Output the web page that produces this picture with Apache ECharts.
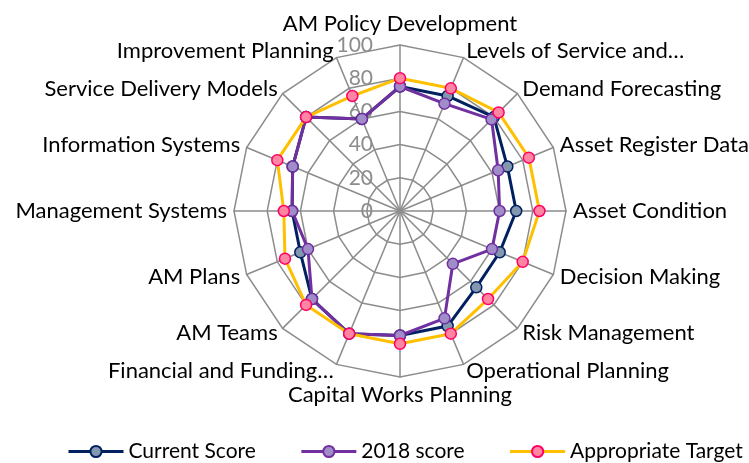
<!DOCTYPE html>
<html>
<head>
<meta charset="utf-8">
<script src="https://cdn.jsdelivr.net/npm/echarts@6/dist/echarts.min.js"></script>
<style>html,body{margin:0;padding:0;background:#fff}#c{width:749px;height:463px}</style>
</head>
<body>
<div id="c"></div>
<script>
// Indicators in clockwise order starting at the top (as in the reference)
var categories = [
  'AM Policy Development', 'Levels of Service and\u2026', 'Demand Forecasting', 'Asset Register Data',
  'Asset Condition', 'Decision Making', 'Risk Management', 'Operational Planning',
  'Capital Works Planning', 'Financial and Funding\u2026', 'AM Teams', 'AM Plans',
  'Management Systems', 'Information Systems', 'Service Delivery Models', 'Improvement Planning'
];
var currentScore      = [75, 75, 80, 70, 70, 65, 65, 75, 75, 80, 75, 65, 65, 70, 80, 60];
var score2018         = [75, 70, 78, 64, 60, 60, 45, 70, 75, 80, 75, 60, 65, 70, 80, 60];
var appropriateTarget = [80, 80, 84, 84, 84, 80, 75, 80, 80, 80, 80, 75, 70, 80, 80, 75];
var tickLabels = ['0', '20', '40', '60', '80', '100'];
var maxValue = 100;

// ECharts radar runs counter-clockwise; reorder so the picture runs clockwise.
function reorder(arr) {
  var out = [arr[0]];
  for (var i = arr.length - 1; i >= 1; i--) out.push(arr[i]);
  return out;
}

var FONT = 'Lato';
var indicators = reorder(categories).map(function (name, i) {
  var ind = { name: name, max: maxValue, min: 0 };
  if (i === 0) {
    ind.axisLabel = {
      show: true, color: '#8c8c8c', fontSize: 21, fontFamily: FONT, margin: 27,
      formatter: function (v) { var k = Math.round(v / 20); return tickLabels[k] != null ? tickLabels[k] : ''; }
    };
  }
  return ind;
});

var seriesDefs = [
  { name: 'Current Score', values: currentScore, line: '#002060', fill: '#8497b0', border: '#002060' },
  { name: '2018 score', values: score2018, line: '#7030a0', fill: '#a08cc8', border: '#7030a0' },
  { name: 'Appropriate Target', values: appropriateTarget, line: '#ffc000', fill: '#ff85a2', border: '#ff0066' }
];

var series = [];
// Legend-only line series (empty) to get line+marker legend icons
seriesDefs.forEach(function (d) {
  series.push({
    type: 'line', name: d.name, data: [], symbol: 'circle', symbolSize: 11,
    lineStyle: { color: d.line, width: 3 },
    itemStyle: { color: d.fill, borderColor: d.border, borderWidth: 1.5 }
  });
});
seriesDefs.forEach(function (d) {
  series.push({
    type: 'radar', name: d.name, symbol: 'circle', symbolSize: 11,
    lineStyle: { color: d.line, width: 3 },
    itemStyle: { color: d.fill, borderColor: d.border, borderWidth: 1.5 },
    data: [{ name: d.name, value: reorder(d.values) }],
    z: 2
  });
});

var chart = echarts.init(document.getElementById('c'), null, { renderer: 'canvas' });
chart.setOption({
  animation: false,
  backgroundColor: '#ffffff',
  textStyle: { fontFamily: FONT },
  grid: { show: false, left: -100, top: -100, width: 10, height: 10 },
  xAxis: { show: false, type: 'category', data: [] },
  yAxis: { show: false, type: 'value' },
  legend: {
    top: 436, left: 62, width: 687, itemWidth: 55, itemHeight: 14, itemGap: 44,
    lineStyle: { width: 3 },
    textStyle: { fontSize: 21, color: '#000', fontFamily: FONT },
    data: seriesDefs.map(function (d) { return d.name; })
  },
  radar: {
    center: [400, 211],
    radius: 166,
    startAngle: 90,
    shape: 'polygon',
    splitNumber: 5,
    indicator: indicators,
    axisName: { color: '#000', fontSize: 22, fontFamily: FONT },
    nameGap: 7,
    axisLabel: { show: false },
    axisLine: { lineStyle: { color: '#8c8c8c', width: 1.5 } },
    splitLine: { lineStyle: { color: '#8c8c8c', width: 1.5 } },
    splitArea: { show: false }
  },
  series: series
});
</script>
</body>
</html>
